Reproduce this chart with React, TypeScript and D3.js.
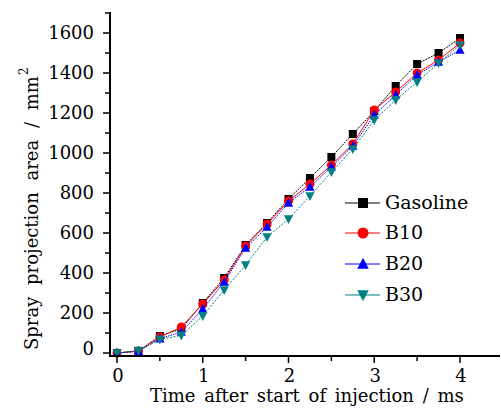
import React from 'react';
import { scaleLinear, line, range } from 'd3';

const times = [0, 0.25, 0.5, 0.75, 1, 1.25, 1.5, 1.75, 2, 2.25, 2.5, 2.75, 3, 3.25, 3.5, 3.75, 4];
const gasoline = [0, 10, 85, 120, 250, 375, 540, 650, 770, 875, 980, 1095, 1210, 1335, 1445, 1500, 1575];
const b10 = [0, 10, 80, 130, 245, 365, 535, 645, 760, 845, 940, 1045, 1215, 1305, 1400, 1465, 1550];
const b20 = [0, 8, 72, 105, 220, 355, 525, 630, 750, 830, 930, 1035, 1190, 1290, 1390, 1455, 1515];
const b30 = [0, 12, 68, 88, 185, 315, 440, 580, 670, 785, 905, 1020, 1165, 1265, 1355, 1450, 1540];

const seriesNames = ['Gasoline', 'B10', 'B20', 'B30'];
const seriesColors = ['#000000', '#ff0000', '#0000ff', '#008080'];
const seriesShapes = ['square', 'circle', 'up', 'down'];
const seriesValues = [gasoline, b10, b20, b30];

const xTickLabels = ['0', '1', '2', '3', '4'];
const yTickLabels = ['0', '200', '400', '600', '800', '1000', '1200', '1400', '1600'];
const xTitleWords = ['Time', 'after', 'start', 'of', 'injection', '/', 'ms'];
const yTitleWords = ['Spray', 'projection', 'area', '/', 'mm'];

// letter-spacing / textLength made the browser fall back to a sans face, so plain text only
const serif = { fontFamily: 'DejaVu Serif' };

function Marker({ shape, x, y, color, s }) {
  if (shape === 'square') {
    return <rect x={x - s / 2} y={y - s / 2} width={s} height={s} fill={color} />;
  }
  if (shape === 'circle') {
    return <circle cx={x} cy={y} r={s / 2 + 0.5} fill={color} />;
  }
  const h = s * 1.05;
  const w = s * 1.15;
  if (shape === 'up') {
    return <path d={`M${x},${y - h * 0.6}L${x + w / 2},${y + h * 0.45}L${x - w / 2},${y + h * 0.45}Z`} fill={color} />;
  }
  return <path d={`M${x},${y + h * 0.6}L${x + w / 2},${y - h * 0.45}L${x - w / 2},${y - h * 0.45}Z`} fill={color} />;
}

export default function App() {
  const x = scaleLinear().domain([0, 4]).range([117, 460]);
  const y = scaleLinear().domain([0, 1600]).range([353, 33]);

  const axisLeft = 110;
  const axisBottom = 356;

  const majorY = yTickLabels.map(Number);
  const minorY = range(100, 1800, 200);
  const majorX = xTickLabels.map(Number);
  const minorX = range(0.5, 4.6, 1);

  const dashes = ['2,1', 'none', '1.5,1', '2,1.5'];

  return (
    <svg width={501} height={409} style={{ display: 'block', position: 'absolute', left: 0, top: 0 }}>
      <rect width={501} height={409} fill="#fff" />

      {/* series lines and markers */}
      {seriesValues.map((vals, i) => {
        const pts = times.map((t, j) => [x(t), y(vals[j])] as [number, number]);
        return (
          <g key={seriesNames[i]}>
            <path d={line()(pts) || ''} fill="none" stroke={seriesColors[i]} strokeWidth={1} strokeDasharray={dashes[i]} />
            {pts.map((p, j) => (
              <Marker key={j} shape={seriesShapes[i]} x={p[0]} y={p[1]} color={seriesColors[i]} s={8} />
            ))}
          </g>
        );
      })}

      {/* axes */}
      <line x1={axisLeft} x2={axisLeft} y1={12} y2={axisBottom + 1} stroke="#000" strokeWidth={2} />
      <line x1={axisLeft - 1} x2={500} y1={axisBottom} y2={axisBottom} stroke="#000" strokeWidth={2} />

      {majorY.map((v, i) => (
        <g key={'ym' + v}>
          <line x1={axisLeft - 7} x2={axisLeft} y1={y(v)} y2={y(v)} stroke="#000" strokeWidth={1.5} />
          <text x={94} y={y(v) + 6 - (v === 0 ? 4 : 0)} textAnchor="end" fontSize={18} style={serif}>
            {yTickLabels[i]}
          </text>
        </g>
      ))}
      {minorY.map((v) => (
        <line key={'yn' + v} x1={axisLeft - 5} x2={axisLeft} y1={y(v)} y2={y(v)} stroke="#000" strokeWidth={1.5} />
      ))}

      {majorX.map((v, i) => (
        <g key={'xm' + v}>
          <line x1={x(v)} x2={x(v)} y1={axisBottom} y2={axisBottom + 7} stroke="#000" strokeWidth={1.5} />
          <text x={x(v) + 1} y={382} textAnchor="middle" fontSize={18} style={serif}>
            {xTickLabels[i]}
          </text>
        </g>
      ))}
      {minorX.map((v) => (
        <line key={'xn' + v} x1={x(v)} x2={x(v)} y1={axisBottom} y2={axisBottom + 5} stroke="#000" strokeWidth={1.5} />
      ))}

      {/* axis titles */}
      <text x={150} y={402} fontSize={18} style={serif}>
        {xTitleWords.map((w, i) => (
          <tspan key={i} dx={i === 0 ? 0 : 3}>
            {(i === 0 ? '' : ' ') + w}
          </tspan>
        ))}
      </text>
      <g transform="translate(38,350) rotate(-90)">
        <text x={0} y={0} fontSize={18} style={serif}>
          {yTitleWords.map((w, i) => (
            <tspan key={i} dx={i === 0 ? 0 : 6}>
              {(i === 0 ? '' : ' ') + w}
            </tspan>
          ))}
          <tspan dx={1} dy={-10} fontSize={12}>
            2
          </tspan>
        </text>
      </g>

      {/* legend */}
      {seriesNames.map((name, i) => {
        const ly = [203, 233, 264, 295][i];
        return (
          <g key={'lg' + name}>
            <line x1={345} x2={380} y1={ly} y2={ly} stroke={seriesColors[i]} strokeWidth={1.2} />
            <Marker shape={seriesShapes[i]} x={363} y={ly} color={seriesColors[i]} s={10} />
            <text x={385} y={ly + 6} fontSize={19} style={serif}>
              {name}
            </text>
          </g>
        );
      })}
    </svg>
  );
}
